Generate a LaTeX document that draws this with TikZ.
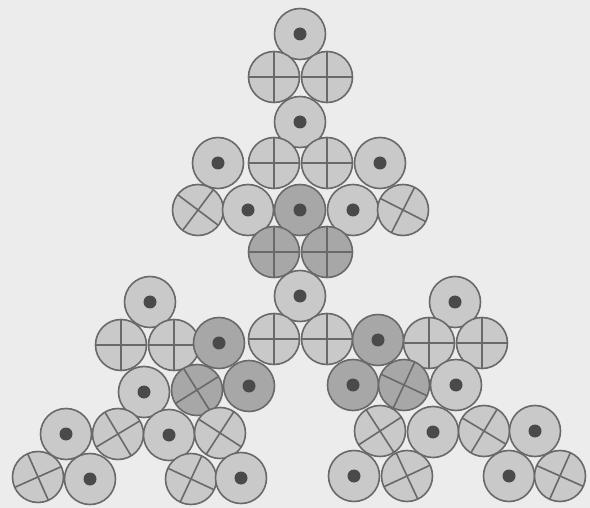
\documentclass[tikz,border=0pt]{standalone}
\usetikzlibrary{positioning}
\definecolor{paper}{HTML}{ECECEC}
\definecolor{wireLine}{HTML}{696969}
\definecolor{wireFill}{HTML}{C9C9C9}
\definecolor{wireDark}{HTML}{A7A7A7}
\definecolor{wireDot}{HTML}{4A4A4A}
\tikzset{
  wire/.style={circle, draw=wireLine, line width=1.6pt, fill=wireFill,
    minimum size=51pt, inner sep=0pt},
  dark/.style={fill=wireDark},
  outwire/.style={wire, path picture={
    \fill[wireDot] (path picture bounding box.center) circle (6.5pt);}},
  inwire/.style={wire, path picture={
    \draw[wireLine, line width=1.6pt]
      (path picture bounding box.center) ++(#1:30pt) -- ++(#1+180:60pt)
      (path picture bounding box.center) ++(#1+90:30pt) -- ++(#1+270:60pt);}},
  inwire/.default=0
}
\begin{document}
\begin{tikzpicture}[x=1pt, y=-1pt]
  \fill[paper] (0,0) rectangle (590,508);
  \useasboundingbox (0,0) rectangle (590,508);
  % top branch
  \node[outwire] (t0) at (300,34) {};
  \node[inwire] (t1a) at (274,77) {};
  \node[inwire] (t1b) at (327,77) {};
  \node[outwire] (t2) at (300,122) {};
  \node[outwire] (t3a) at (218,163) {};
  \node[inwire] (t3b) at (274,163) {};
  \node[inwire] (t3c) at (327,163) {};
  \node[outwire] (t3d) at (380,163) {};
  \node[inwire=53] (t4a) at (198,210) {};
  \node[outwire] (t4b) at (248,210) {};
  \node[outwire, dark] (t4c) at (300,210) {};
  \node[outwire] (t4d) at (353,210) {};
  \node[inwire=63] (t4e) at (403,210) {};
  \node[inwire, dark] (t5a) at (274,252) {};
  \node[inwire, dark] (t5b) at (327,252) {};
  % middle
  \node[outwire] (m0) at (300,296) {};
  \node[inwire] (m1a) at (274,339) {};
  \node[inwire] (m1b) at (327,339) {};
  % left branch
  \node[outwire] (l0) at (150,302) {};
  \node[inwire] (l1a) at (121,345) {};
  \node[inwire] (l1b) at (174,345) {};
  \node[outwire, dark] (l1c) at (219,343) {};
  \node[outwire] (l2a) at (144,392) {};
  \node[inwire=32, dark] (l2b) at (197,390) {};
  \node[outwire, dark] (l2c) at (249,386) {};
  \node[outwire] (l3a) at (66,434) {};
  \node[inwire=31] (l3b) at (118,434) {};
  \node[outwire] (l3c) at (169,435) {};
  \node[inwire=57] (l3d) at (220,433) {};
  \node[inwire=24] (l4a) at (38,477) {};
  \node[outwire] (l4b) at (90,479) {};
  \node[inwire=65] (l4c) at (191,479) {};
  \node[outwire] (l4d) at (241,478) {};
  % right branch
  \node[outwire] (r0) at (455,302) {};
  \node[outwire, dark] (r1a) at (378,340) {};
  \node[inwire] (r1b) at (429,343) {};
  \node[inwire] (r1c) at (482,343) {};
  \node[outwire, dark] (r2a) at (353,385) {};
  \node[inwire=65, dark] (r2b) at (404,385) {};
  \node[outwire] (r2c) at (456,385) {};
  \node[inwire=33] (r3a) at (380,431) {};
  \node[outwire] (r3b) at (433,432) {};
  \node[inwire=59] (r3c) at (484,431) {};
  \node[outwire] (r3d) at (535,431) {};
  \node[outwire] (r4a) at (354,476) {};
  \node[inwire=25] (r4b) at (407,476) {};
  \node[outwire] (r4c) at (509,476) {};
  \node[inwire=66] (r4d) at (560,476) {};
\end{tikzpicture}
\end{document}
